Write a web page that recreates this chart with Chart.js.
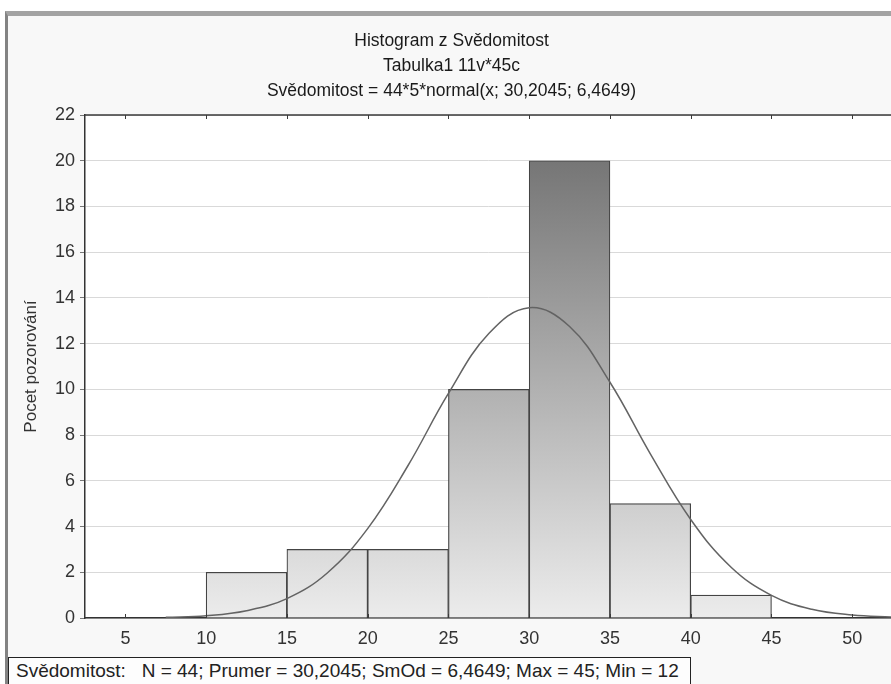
<!DOCTYPE html>
<html>
<head>
<meta charset="utf-8">
<script src="https://cdn.jsdelivr.net/npm/chart.js@4"></script>
<style>
  html, body { margin: 0; padding: 0; background: #fff; }
  #frame {
    position: absolute; left: 5px; top: 11px; width: 900px; height: 700px;
    border-top: 5px solid #a3a3a3; border-left: 3px solid #838383;
    background: #f8f8f8;
  }
  #wrap { position: absolute; left: 0; top: 0; width: 891px; height: 684px; }
  #stats {
    position: absolute; left: 8px; top: 657px; width: 674px; height: 30px;
    border: 1px solid #222; background: #fdfdfd;
    font: 19px "Liberation Sans", Arial, sans-serif; color: #222;
    padding-left: 7px; line-height: 26px; white-space: pre;
  }
</style>
</head>
<body>
<div id="frame"></div>
<div id="wrap"><canvas id="hist" width="891" height="684"></canvas></div>
<div id="stats">Svědomitost:   N = 44; Prumer = 30,2045; SmOd = 6,4649; Max = 45; Min = 12</div>
<script>
// histogram bins (class midpoints, width 5) and counts
const binCenters = [7.5, 12.5, 17.5, 22.5, 27.5, 32.5, 37.5, 42.5];
const binCounts  = [0, 2, 3, 3, 10, 20, 5, 1];

// fitted normal curve
const curveX = [7.5, 10, 12.5, 15, 17.5, 20, 22.5, 25, 27.5, 30, 32.5, 35, 37.5, 40, 42.5, 45, 47.5, 50, 52.5];
const curveY = [0.03, 0.1, 0.32, 0.85, 1.97, 3.91, 6.67, 9.82, 12.44, 13.57, 12.75, 10.31, 7.18, 4.31, 2.22, 0.99, 0.38, 0.13, 0.04];

const titleLines = [
  'Histogram z Svědomitost',
  'Tabulka1 11v*45c',
  'Svědomitost = 44*5*normal(x; 30,2045; 6,4649)'
];
const yLabel = 'Pocet pozorování';

const FONT = '"Liberation Sans", Arial, sans-serif';

/* white plot area + top frame line + small inside ticks */
const plotFrame = {
  id: 'plotFrame',
  beforeDraw(chart) {
    const { ctx, chartArea: a } = chart;
    ctx.save();
    ctx.fillStyle = '#fff';
    ctx.fillRect(a.left, a.top, a.right - a.left, a.bottom - a.top);
    ctx.restore();
  },
  afterDraw(chart) {
    const { ctx, chartArea: a } = chart;
    const xs = chart.scales.x;
    ctx.save();
    ctx.strokeStyle = '#3a3a3a';
    ctx.lineWidth = 1.5;
    ctx.beginPath();
    ctx.moveTo(a.left, a.top);
    ctx.lineTo(a.right, a.top);
    ctx.stroke();
    ctx.lineWidth = 1;
    xs.ticks.forEach(t => {
      const px = Math.round(xs.getPixelForValue(t.value)) + 0.5;
      ctx.beginPath();
      ctx.moveTo(px, a.top); ctx.lineTo(px, a.top + 4);
      ctx.moveTo(px, a.bottom); ctx.lineTo(px, a.bottom - 4);
      ctx.stroke();
    });
    ctx.restore();
  }
};

function barFill(context) {
  const a = context.chart.chartArea;
  if (!a) return '#ccc';
  const g = context.chart.ctx.createLinearGradient(0, a.bottom, 0, a.top);
  g.addColorStop(0, '#ececec');
  g.addColorStop(1, '#6a6a6a');
  return g;
}

new Chart(document.getElementById('hist'), {
  data: {
    datasets: [
      {
        type: 'line',
        data: curveX.map((x, i) => ({ x: x, y: curveY[i] })),
        borderColor: '#636363',
        borderWidth: 1.5,
        pointRadius: 0,
        tension: 0.4,
        order: 0
      },
      {
        type: 'bar',
        data: binCenters.map((x, i) => ({ x: x, y: binCounts[i] })),
        backgroundColor: barFill,
        borderColor: '#444',
        borderWidth: 1.2,
        barPercentage: 1,
        categoryPercentage: 1,
        order: 1
      }
    ]
  },
  options: {
    responsive: false,
    animation: false,
    layout: { padding: { top: 29, left: 12, right: 0, bottom: 32 } },
    plugins: {
      legend: { display: false },
      tooltip: { enabled: false },
      title: {
        display: true,
        text: titleLines,
        color: '#1a1a1a',
        font: { family: FONT, size: 17.5, weight: 'normal', lineHeight: '25px' },
        padding: { top: 0, bottom: 11 }
      }
    },
    scales: {
      x: {
        type: 'linear',
        min: 2.5,
        max: 52.4,
        offset: false,
        afterFit: s => { s.height = 34; },
        ticks: { stepSize: 5, includeBounds: false, padding: 10, color: '#333', font: { family: FONT, size: 18 } },
        grid: { display: true, offset: false, drawOnChartArea: false, drawTicks: false },
        border: { color: '#333', width: 1.5 }
      },
      y: {
        min: 0,
        max: 22,
        afterFit: s => { s.width = 73; },
        ticks: { stepSize: 2, padding: 5, color: '#333', font: { family: FONT, size: 18 } },
        grid: { color: '#d9d9d9', lineWidth: 1, tickLength: 5, tickColor: '#777' },
        border: { color: '#333', width: 1.5 },
        title: {
          display: true,
          text: yLabel,
          color: '#333',
          font: { family: FONT, size: 17 },
          padding: { top: 9, bottom: 0 }
        }
      }
    }
  },
  plugins: [plotFrame]
});
</script>
</body>
</html>
